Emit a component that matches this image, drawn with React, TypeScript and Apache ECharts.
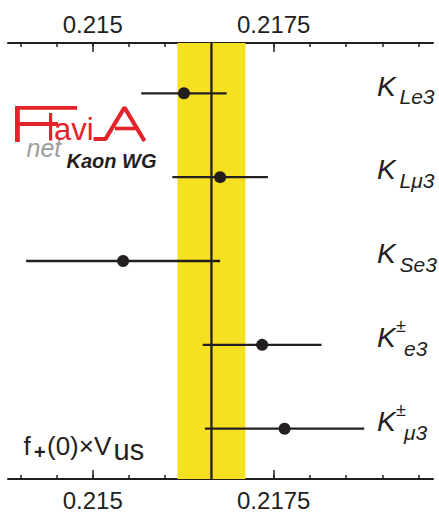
import React, { useEffect, useRef } from "react";
import * as echarts from "echarts";

// ---- data ----
const channels = ["KLe3", "KLμ3", "KSe3", "K±e3", "K±μ3"];
const rows = [1, 2, 3, 4, 5];
const centralValues = [0.21626, 0.21676, 0.21542, 0.21734, 0.21765];
const errors = [0.00059, 0.00066, 0.00134, 0.00082, 0.0011];
const averageValue = 0.21664;
const averageError = 0.00047;
const majorTicks = [0.215, 0.2175];
const minorTicks = [0.214, 0.2145, 0.215, 0.2155, 0.216, 0.2165, 0.217, 0.2175, 0.218, 0.2185, 0.219, 0.2195];
const labelMain = ["K", "K", "K", "K", "K"];
const labelSup = ["", "", "", "±", "±"];
const labelSub = ["Le3", "Lμ3", "Se3", "e3", "μ3"];

const INK = "#231f20";
const RED = "#e3222a";
const FONT = '"Liberation Sans", Arial, sans-serif';

export default function App() {
  const ref = useRef<HTMLDivElement>(null);
  useEffect(() => {
    if (!ref.current) return;
    const chart = echarts.init(ref.current, null, { renderer: "svg" });
    const xMin = 0.21383;
    const xMax = 0.2197;
    const baseAxis = (pos: string, major: boolean) => ({
      type: "value",
      position: pos,
      min: xMin,
      max: xMax,
      axisLine: { show: major, onZero: false, lineStyle: { color: INK, width: 2 } },
      axisTick: {
        show: true,
        inside: true,
        length: major ? 9 : 4,
        customValues: major ? majorTicks : minorTicks,
        lineStyle: { color: INK, width: 1.5 },
      },
      axisLabel: {
        show: major,
        customValues: majorTicks,
        formatter: (v: number) => String(v),
        fontSize: 24,
        fontFamily: FONT,
        color: INK,
        margin: pos === "top" ? 7 : 9,
      },
      splitLine: { show: false },
    });
    chart.setOption({
      animation: false,
      backgroundColor: "#fff",
      textStyle: { fontFamily: FONT },
      grid: { left: 8, right: 6, top: 43, bottom: 29.3 },
      xAxis: [baseAxis("top", true), baseAxis("top", false), baseAxis("bottom", true), baseAxis("bottom", false)],
      yAxis: { type: "value", min: 0.4, max: 5.6, inverse: true, show: false },
      series: [
        {
          type: "line",
          data: [],
          xAxisIndex: 0,
          z: 1,
          markArea: {
            silent: true,
            itemStyle: { color: "#f5e022" },
            data: [[{ xAxis: averageValue - averageError }, { xAxis: averageValue + averageError }]],
          },
        },
        {
          // average line across the full plot height
          type: "custom",
          xAxisIndex: 0,
          z: 2,
          encode: { x: 0, y: 1 },
          data: [[averageValue, 1]],
          renderItem: (params: any, api: any) => {
            const cs = params.coordSys;
            const px = api.coord([api.value(0), api.value(1)])[0];
            return {
              type: "line",
              shape: { x1: px, y1: cs.y, x2: px, y2: cs.y + cs.height },
              style: { stroke: INK, lineWidth: 2.3 },
            };
          },
        },
        {
          type: "custom",
          xAxisIndex: 0,
          z: 3,
          encode: { x: 0, y: 1 },
          data: rows.map((r, i) => [centralValues[i], r, errors[i]]),
          renderItem: (params: any, api: any) => {
            const x = api.value(0);
            const y = api.value(1);
            const e = api.value(2);
            const p1 = api.coord([x - e, y]);
            const p2 = api.coord([x + e, y]);
            return {
              type: "line",
              shape: { x1: p1[0], y1: p1[1], x2: p2[0], y2: p2[1] },
              style: { stroke: INK, lineWidth: 2.3 },
            };
          },
        },
        {
          type: "scatter",
          xAxisIndex: 0,
          z: 4,
          symbolSize: 12,
          itemStyle: { color: INK, opacity: 1 },
          data: rows.map((r, i) => [centralValues[i], r]),
        },
      ],
    });

    const txt = (x: number, y: number, text: string, font: string, fill = INK) => ({
      type: "text",
      x,
      y,
      z: 10,
      style: { text, font, fill, align: "left", verticalAlign: "middle" },
    });

    const graphics: any[] = [];
    rows.forEach((r, i) => {
      const py = chart.convertToPixel({ yAxisIndex: 0 }, r) as number;
      graphics.push(txt(377, py - 7.2, labelMain[i], `italic 28px ${FONT}`));
      if (labelSup[i]) {
        graphics.push(txt(396, py - 18.9, labelSup[i], `18px ${FONT}`));
        graphics.push(txt(404, py + 3.4, labelSub[i], `italic 21px ${FONT}`));
      } else {
        graphics.push(txt(399.5, py + 3.4, labelSub[i], `italic 21px ${FONT}`));
      }
    });
    // axis title f+(0) x Vus
    graphics.push(txt(23.5, 445.5, "f", `26px ${FONT}`));
    graphics.push(txt(34, 451.7, "+", `bold 20px ${FONT}`));
    graphics.push(txt(47, 445.5, "(0)×V", `26px ${FONT}`));
    graphics.push(txt(113.5, 450, "us", `29px ${FONT}`));
    // FlaviA logo
    graphics.push({ type: "rect", z: 10, shape: { x: 15, y: 106, width: 4.8, height: 36 }, style: { fill: RED } });
    graphics.push({ type: "rect", z: 10, shape: { x: 15, y: 106, width: 62, height: 3.8 }, style: { fill: RED } });
    graphics.push({ type: "rect", z: 10, shape: { x: 15, y: 122, width: 43, height: 4 }, style: { fill: RED } });
    graphics.push({ type: "rect", z: 10, shape: { x: 49, y: 113, width: 3.2, height: 27.5 }, style: { fill: RED } });
    graphics.push(txt(54, 129.8, "avi", `31px ${FONT}`, RED));
    graphics.push({
      type: "polyline",
      z: 10,
      shape: { points: [[93.5, 139], [105.5, 139], [124.5, 107.5], [144.5, 141]] },
      style: { stroke: RED, lineWidth: 4.2, fill: null, lineJoin: "bevel" },
    });
    graphics.push({ type: "line", z: 10, shape: { x1: 115, y1: 128.5, x2: 137.5, y2: 128.5 }, style: { stroke: RED, lineWidth: 3.6 } });
    graphics.push(txt(26.5, 148.4, "net", `italic 25px ${FONT}`, "#9d9d9d"));
    graphics.push(txt(66.5, 161.3, "Kaon WG", `italic bold 20px ${FONT}`, INK));

    chart.setOption({ graphic: graphics });
    return () => chart.dispose();
  }, []);
  return <div ref={ref} style={{ position: "fixed", left: 0, top: 0, width: 439, height: 512, background: "#fff" }} />;
}
